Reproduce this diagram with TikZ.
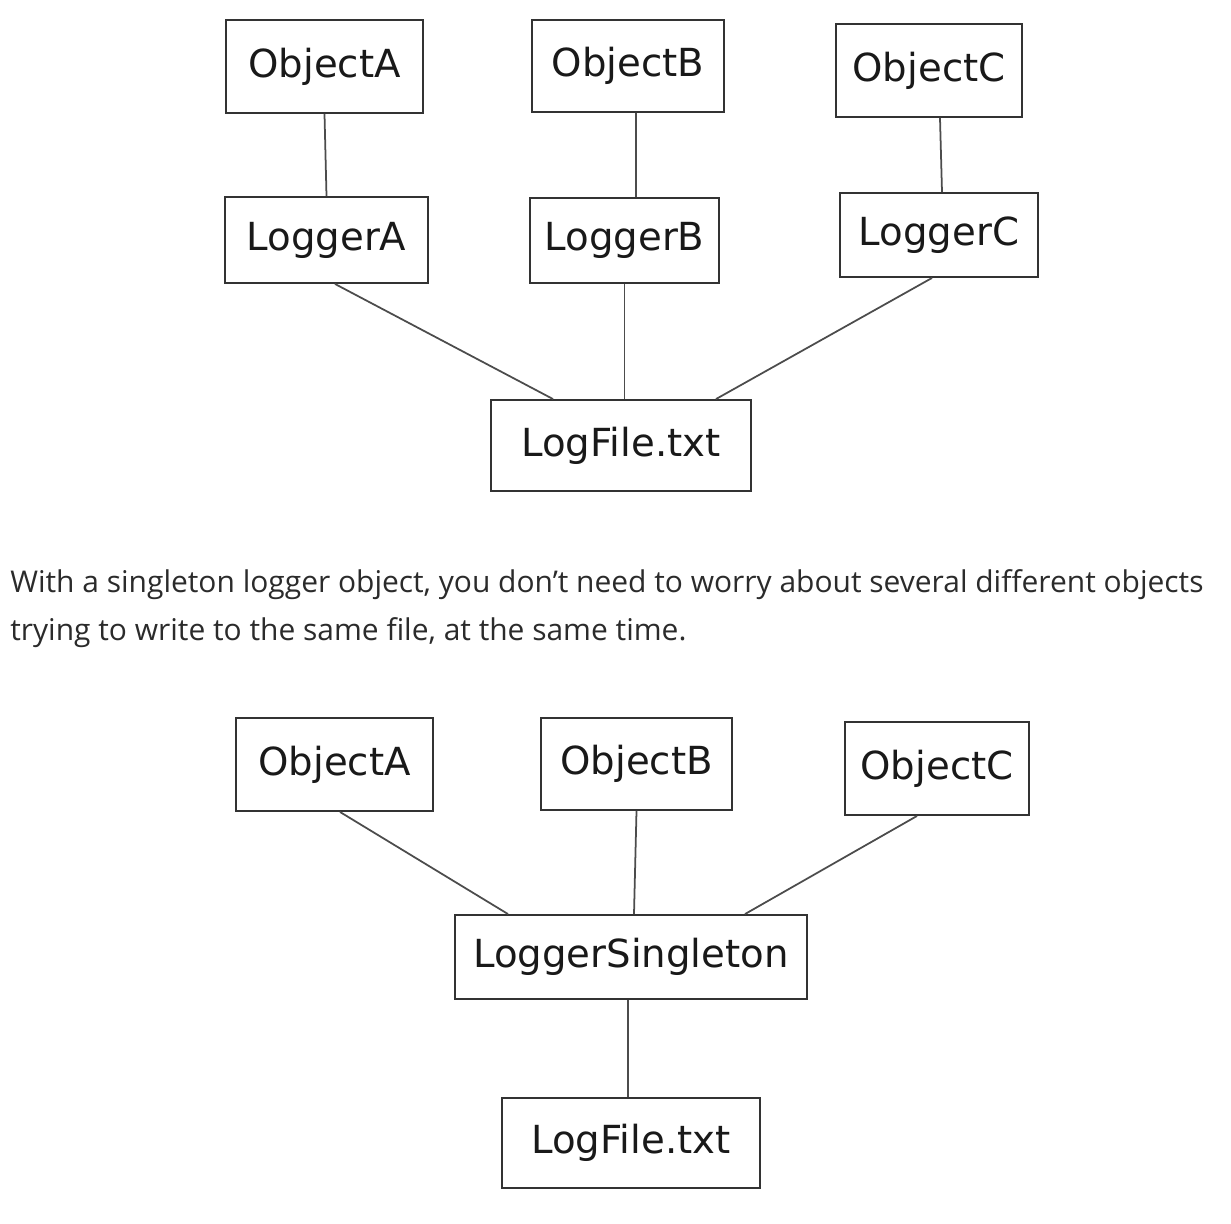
\documentclass[tikz,border=0pt]{standalone}
\usepackage{fontspec}
\newfontfamily\boxfont{DejaVu Sans}
\newfontfamily\bodyfont{Open Sans}
\usetikzlibrary{positioning, calc}
\definecolor{boxline}{HTML}{333333}
\definecolor{bodytext}{HTML}{2B2B2B}

\begin{document}
\begin{tikzpicture}[
  x=0.02cm, y=-0.02cm,
  obj/.style={draw=boxline, line width=1.1pt, fill=white, inner sep=0pt, text=black!90, font=\boxfont\fontsize{22}{26}\selectfont},
  link/.style={draw=black!70, line width=1pt},
  para/.style={anchor=base west, inner sep=0pt, text=bodytext, font=\bodyfont\fontsize{17.05}{27}\selectfont}
]
\useasboundingbox (0,0) rectangle (1231,1224);

% Diagram 1: one logger per object
\node[obj, minimum width=3.94cm, minimum height=1.86cm] (oa) at (324.5,66.5) {ObjectA};
\node[obj, minimum width=3.84cm, minimum height=1.84cm] (ob) at (628,66) {ObjectB};
\node[obj, minimum width=3.72cm, minimum height=1.86cm] (oc) at (929,70.5) {ObjectC};
\node[obj, minimum width=4.06cm, minimum height=1.72cm] (la) at (326.5,240) {LoggerA};
\node[obj, minimum width=3.78cm, minimum height=1.70cm] (lb) at (624.5,240.5) {LoggerB};
\node[obj, minimum width=3.96cm, minimum height=1.68cm] (lc) at (939,235) {LoggerC};
\node[obj, minimum width=5.20cm, minimum height=1.82cm] (lf) at (621,445.5) {LogFile.txt};
% links
\draw[link] (oa.south) -- (la.north);
\draw[link] ($(ob.south)+(8,0)$) -- ($(lb.north)+(11.5,0)$);
\draw[link] ($(oc.south)+(11,0)$) -- ($(lc.north)+(3,0)$);
\draw[link] ($(la.south)+(8.5,0)$) -- ($(lf.north)+(-68,0)$);
\draw[link] (lb.south) -- (lb.south |- lf.north);
\draw[link] ($(lc.south)+(-7,0)$) -- ($(lf.north)+(95,0)$);

% Text between the diagrams
\node[para] (line1) at (10,592) {With a singleton logger object, you don’t need to worry about several different objects};
\node[para] (line2) at (10,640) {trying to write to the same file, at the same time.};

% Diagram 2: one shared logger
\node[obj, minimum width=3.94cm, minimum height=1.86cm] (oa2) at (334.5,764.5) {ObjectA};
\node[obj, minimum width=3.82cm, minimum height=1.84cm] (ob2) at (636.5,764) {ObjectB};
\node[obj, minimum width=3.68cm, minimum height=1.86cm] (oc2) at (937,768.5) {ObjectC};
\node[obj, minimum width=7.04cm, minimum height=1.68cm] (ls) at (631,957) {LoggerSingleton};
\node[obj, minimum width=5.16cm, minimum height=1.80cm] (lf2) at (631,1143) {LogFile.txt};
% links
\draw[link] ($(oa2.south)+(5.5,0)$) -- ($(ls.north)+(-123,0)$);
\draw[link] (ob2.south) -- ($(ls.north)+(3,0)$);
\draw[link] ($(oc2.south)+(-20,0)$) -- ($(ls.north)+(114,0)$);
\draw[link] ($(ls.south)+(-3,0)$) -- ($(lf2.north)+(-3,0)$);

\end{tikzpicture}
\end{document}
